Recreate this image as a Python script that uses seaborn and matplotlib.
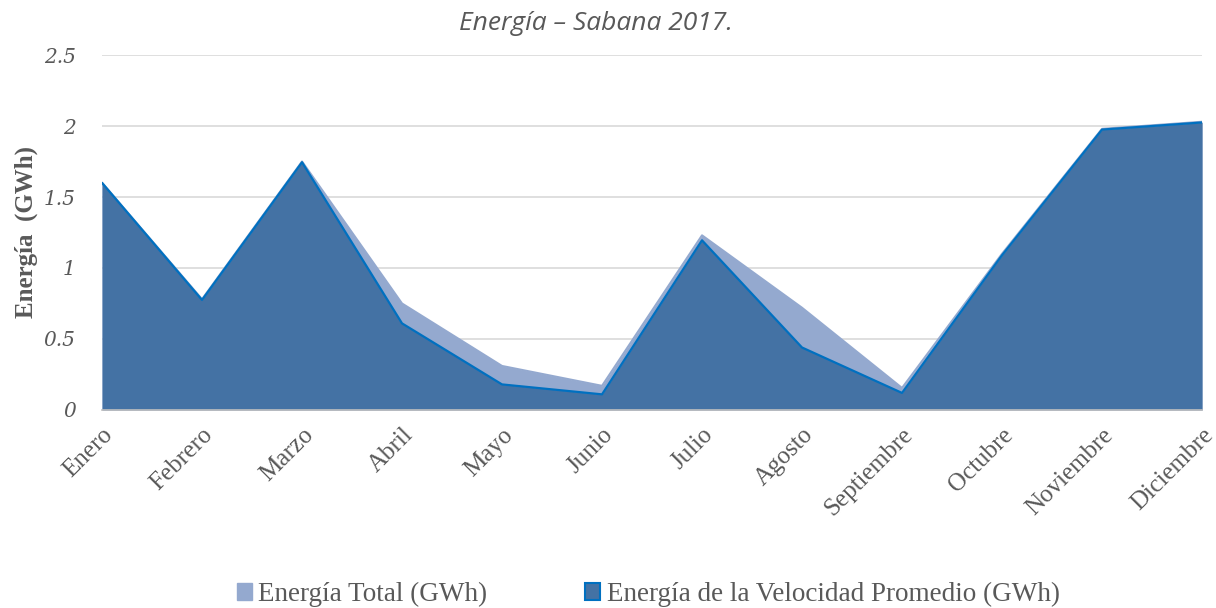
import matplotlib
matplotlib.use("Agg")
import matplotlib.pyplot as plt
from matplotlib.patches import Patch
import seaborn as sns
import pandas as pd

meses = ["Enero", "Febrero", "Marzo", "Abril", "Mayo", "Junio", "Julio",
         "Agosto", "Septiembre", "Octubre", "Noviembre", "Diciembre"]
energia_total = [1.60, 0.78, 1.75, 0.75, 0.31, 0.17, 1.23, 0.72, 0.155, 1.10, 1.98, 2.03]
energia_promedio = [1.60, 0.775, 1.745, 0.61, 0.18, 0.11, 1.195, 0.44, 0.12, 1.09, 1.975, 2.025]
y_ticks = [0, 0.5, 1, 1.5, 2, 2.5]
y_tick_labels = ["0", "0.5", "1", "1.5", "2", "2.5"]

serie_total = "Energía Total (GWh)"
serie_prom = "Energía de la Velocidad Promedio (GWh)"

sns.set_theme(style="white")
plt.rcParams["font.family"] = ["Liberation Serif", "DejaVu Serif"]

df = pd.DataFrame({"x": range(len(meses)),
                   "total": energia_total,
                   "prom": energia_promedio})

c_light = "#94A9CF"
c_dark = "#4472A4"
c_edge = "#0070C0"
c_text = "#595959"

fig = plt.figure(figsize=(12.16, 6.08), dpi=100)
ax = fig.add_axes([0.0839, 0.3257, 0.9046, 0.5838])

ax.fill_between(df["x"], 0, df["total"], color=c_light, linewidth=0, zorder=2)
ax.fill_between(df["x"], 0, df["prom"], color=c_dark, linewidth=0, zorder=3)
sns.lineplot(data=df, x="x", y="total", ax=ax, color=c_light, linewidth=1.5, zorder=2.5)
sns.lineplot(data=df, x="x", y="prom", ax=ax, color=c_edge, linewidth=1.6, zorder=4)

ax.set_xlim(0, len(meses) - 1)
ax.set_ylim(0, 2.5)
ax.set_yticks(y_ticks)
ax.set_yticklabels(y_tick_labels, fontsize=14.5, style="italic", color=c_text,
                   family=["DejaVu Serif"])
ax.set_xticks(range(len(meses)))
ax.set_xticklabels(meses, rotation=45, ha="right", rotation_mode="anchor",
                   fontsize=18, color=c_text)
ax.tick_params(axis="y", length=0, pad=19)
ax.tick_params(axis="x", length=0, pad=10)
ax.grid(axis="y", color="#D9D9D9", linewidth=1.2, zorder=0)
ax.set_axisbelow(True)
for s in ["top", "right", "left"]:
    ax.spines[s].set_visible(False)
ax.spines["bottom"].set_color("#BFBFBF")
ax.spines["bottom"].set_linewidth(1.2)
ax.spines["bottom"].set_zorder(5)

ax.set_xlabel("")
ax.set_ylabel("Energía  (GWh)", fontsize=18, fontweight="bold", color=c_text, labelpad=4)

fig.text(0.49, 0.962, "Energía – Sabana 2017.", ha="center", va="center",
         fontsize=19, style="italic", color=c_text,
         family=["Open Sans", "DejaVu Sans"])

handles = [Patch(facecolor=c_light, edgecolor=c_light, label=serie_total),
           Patch(facecolor=c_dark, edgecolor=c_edge, linewidth=1.5, label=serie_prom)]
leg = fig.legend(handles=handles, loc="center", bbox_to_anchor=(0.533, 0.022),
                 ncol=2, frameon=False, fontsize=19.5, handlelength=0.55,
                 handleheight=0.55, handletextpad=0.25, columnspacing=3.6)
for t in leg.get_texts():
    t.set_color(c_text)

fig.savefig("out.png", dpi=100)
